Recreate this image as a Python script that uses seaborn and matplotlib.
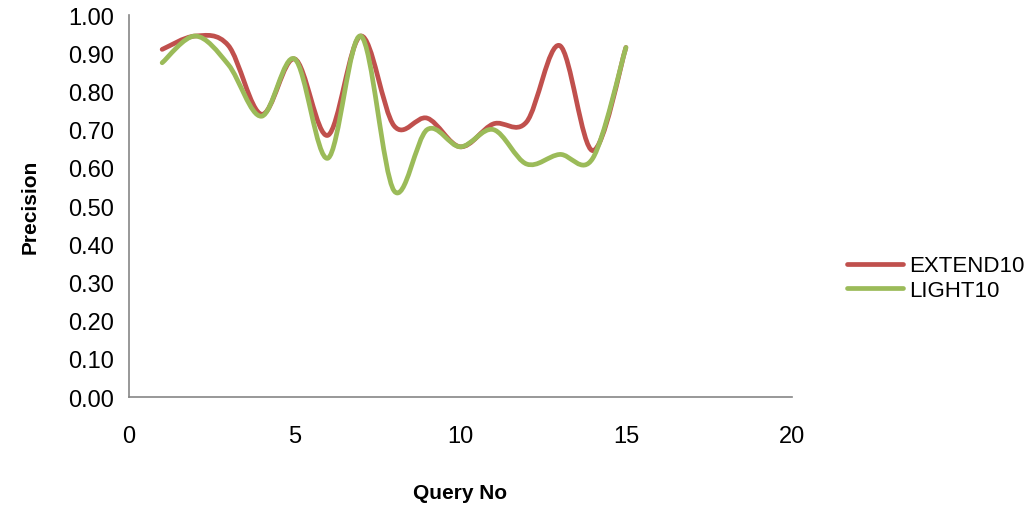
import numpy as np
import pandas as pd
import matplotlib
matplotlib.use("Agg")
import matplotlib.pyplot as plt
from matplotlib.path import Path
from matplotlib.patches import PathPatch
import seaborn as sns

# Data
query_no = [1, 2, 3, 4, 5, 6, 7, 8, 9, 10, 11, 12, 13, 14, 15]
extend10 = [0.91, 0.945, 0.92, 0.74, 0.885, 0.685, 0.945, 0.71, 0.73, 0.655, 0.715, 0.72, 0.92, 0.645, 0.915]
light10 = [0.875, 0.945, 0.87, 0.735, 0.885, 0.625, 0.945, 0.54, 0.70, 0.655, 0.70, 0.61, 0.635, 0.625, 0.915]
series_names = ["EXTEND10", "LIGHT10"]
colors = ["#C0504D", "#9BBB59"]

df = pd.DataFrame({
    "Query No": query_no * 2,
    "Precision": extend10 + light10,
    "series": [series_names[0]] * len(query_no) + [series_names[1]] * len(query_no),
})

sns.set_style("white")
plt.rcParams["font.family"] = ["Liberation Sans", "DejaVu Sans"]
plt.rcParams["text.color"] = "black"
plt.rcParams["axes.labelcolor"] = "black"

fig = plt.figure(figsize=(10.24, 5.10), dpi=100)
ax = fig.add_axes([0.126, 0.2196, 0.647, 0.749])

sns.lineplot(data=df, x="Query No", y="Precision", hue="series",
             palette=colors, linewidth=3, legend=False, ax=ax)


def smooth_path(xy):
    # Excel-style smoothed line: cubic Bezier through every point
    pts = np.vstack([xy[0], xy, xy[-1]])
    verts = [tuple(xy[0])]
    codes = [Path.MOVETO]
    for i in range(1, len(pts) - 2):
        p0, p1, p2, p3 = pts[i - 1], pts[i], pts[i + 1], pts[i + 2]
        c1 = p1 + (p2 - p0) / 6.0
        c2 = p2 - (p3 - p1) / 6.0
        verts += [tuple(c1), tuple(c2), tuple(p2)]
        codes += [Path.CURVE4] * 3
    return Path(verts, codes)


handles = []
for line, color, name in zip(ax.lines, colors, series_names):
    xy = line.get_xydata()
    patch = PathPatch(smooth_path(xy), facecolor="none", edgecolor=color,
                      lw=3.4, capstyle="round", joinstyle="round")
    ax.add_patch(patch)
    handles.append(plt.Line2D([], [], color=color, lw=3.4,
                              solid_capstyle="round", label=name))
    line.set_visible(False)

ax.set_xlim(0, 20)
ax.set_ylim(0, 1.0)
ax.set_xticks([0, 5, 10, 15, 20])
ax.set_yticks(np.arange(0, 1.01, 0.1))
ax.set_yticklabels([f"{v:.2f}" for v in np.arange(0, 1.01, 0.1)])

for side in ["top", "right"]:
    ax.spines[side].set_visible(False)
for side in ["left", "bottom"]:
    ax.spines[side].set_color("#868686")
    ax.spines[side].set_linewidth(1.2)

ax.tick_params(axis="both", direction="out", length=5, width=1.2,
               color="#868686", labelsize=17, labelcolor="black")
ax.tick_params(axis="x", pad=15)
ax.tick_params(axis="y", pad=6)

ax.set_xlabel("Query No", fontsize=15, fontweight="bold", labelpad=26)
ax.set_ylabel("Precision", fontsize=15, fontweight="bold", labelpad=20)

fig.legend(handles=handles, loc="center left", bbox_to_anchor=(0.808, 0.453),
           frameon=False, fontsize=16, handlelength=2.5, handletextpad=0.3,
           labelspacing=0.15)

fig.savefig("out.png", dpi=100)
